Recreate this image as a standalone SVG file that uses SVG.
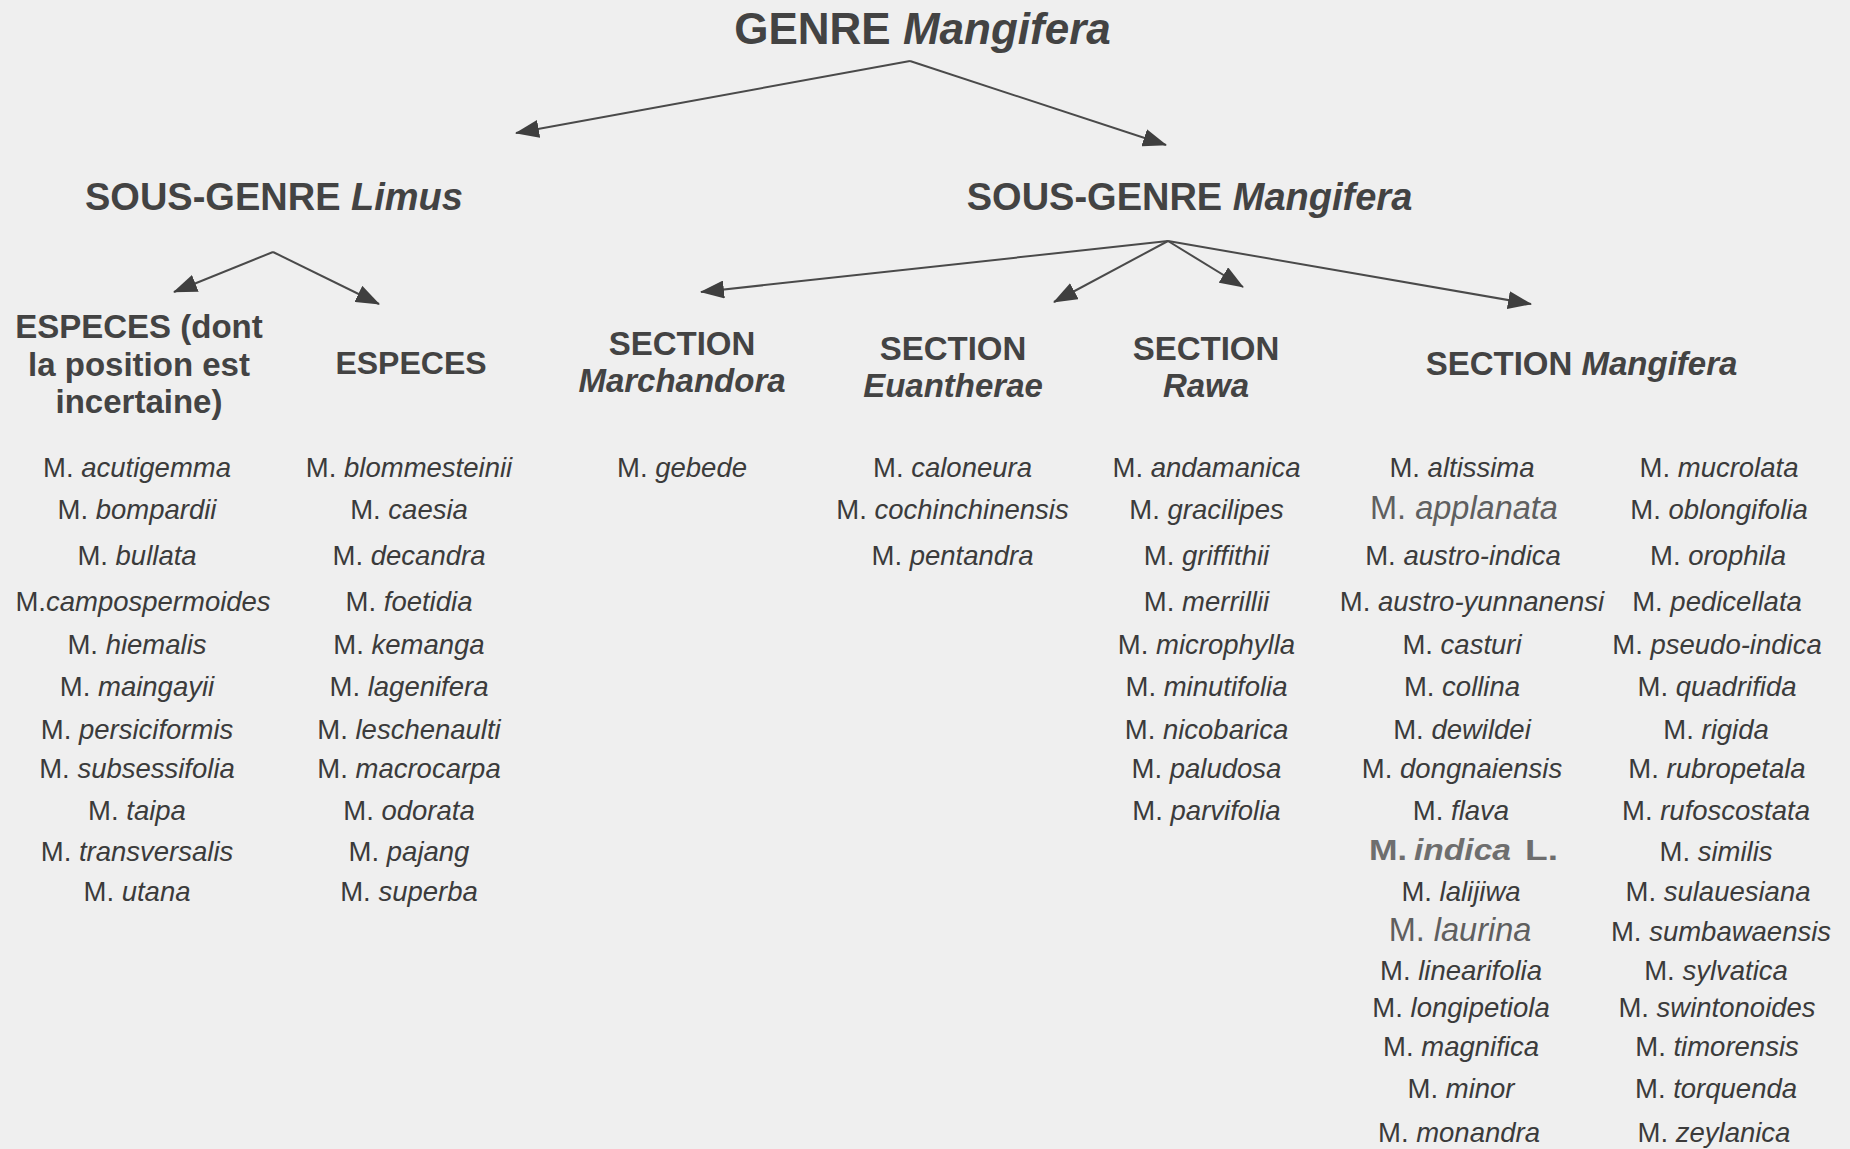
<svg xmlns="http://www.w3.org/2000/svg" width="1850" height="1149" viewBox="0 0 1850 1149">
  <defs>
    <marker id="tip" viewBox="0 0 24 18" refX="23" refY="9" markerWidth="24" markerHeight="18" markerUnits="userSpaceOnUse" orient="auto">
      <path d="M0,0 L24,9 L0,18 z" fill="#3f3f3f"/>
    </marker>
  </defs>
  <style>
    text { font-family: "Liberation Sans", Arial, sans-serif; fill: #3b3b3b; text-anchor: middle; }
    .title { font-size: 44px; font-weight: bold; fill: #434343; }
    .sub { font-size: 38px; font-weight: bold; fill: #434343; }
    .hdr { font-size: 33px; font-weight: bold; fill: #434343; }
    .sp { font-size: 27.5px; }
    .big { font-size: 32.5px; fill: #5f5f5f; }
    .key { font-size: 29px; font-weight: bold; fill: #6e6e6e; text-anchor: start; }
    .it { font-style: italic; }
    .links line { stroke: #4a4a4a; stroke-width: 2; marker-end: url(#tip); }
  </style>
  <rect width="1850" height="1149" fill="#efefef"/>

  <!-- connectors -->
  <g id="connectors" class="links">
    <line x1="910" y1="61" x2="516" y2="133"/>
    <line x1="910" y1="61" x2="1166" y2="145"/>
    <line x1="273" y1="252" x2="174" y2="292"/>
    <line x1="273" y1="252" x2="379" y2="304"/>
    <line x1="1168" y1="241" x2="701" y2="292"/>
    <line x1="1168" y1="241" x2="1054" y2="302"/>
    <line x1="1168" y1="241" x2="1243" y2="287"/>
    <line x1="1168" y1="241" x2="1531" y2="304"/>
  </g>

  <!-- genus -->
  <g id="genre">
    <text class="title" x="922.5" y="44">GENRE <tspan class="it">Mangifera</tspan></text>
  </g>

  <!-- subgenera -->
  <g id="sousgenre-limus">
    <text class="sub" x="274" y="210">SOUS-GENRE <tspan class="it">Limus</tspan></text>
  </g>
  <g id="sousgenre-mangifera">
    <text class="sub" x="1189.5" y="210">SOUS-GENRE <tspan class="it">Mangifera</tspan></text>
  </g>

  <!-- Limus: uncertain position -->
  <g id="especes-incertaines">
    <text class="hdr" x="139" y="338">ESPECES (dont</text>
    <text class="hdr" x="139" y="376">la position est</text>
    <text class="hdr" x="139" y="413">incertaine)</text>
    <g class="sp">
      <text x="137" y="477">M. <tspan class="it">acutigemma</tspan></text>
      <text x="137" y="519">M. <tspan class="it">bompardii</tspan></text>
      <text x="137" y="565">M. <tspan class="it">bullata</tspan></text>
      <text x="143" y="611">M.<tspan class="it">campospermoides</tspan></text>
      <text x="137" y="653.5">M. <tspan class="it">hiemalis</tspan></text>
      <text x="137" y="696">M. <tspan class="it">maingayii</tspan></text>
      <text x="137" y="738.5">M. <tspan class="it">persiciformis</tspan></text>
      <text x="137" y="777.5">M. <tspan class="it">subsessifolia</tspan></text>
      <text x="137" y="820">M. <tspan class="it">taipa</tspan></text>
      <text x="137" y="861">M. <tspan class="it">transversalis</tspan></text>
      <text x="137" y="901">M. <tspan class="it">utana</tspan></text>
    </g>
  </g>

  <!-- Limus: species -->
  <g id="especes">
    <text class="hdr" x="411" y="374" style="font-size:32px">ESPECES</text>
    <g class="sp">
      <text x="409" y="477">M. <tspan class="it">blommesteinii</tspan></text>
      <text x="409" y="519">M. <tspan class="it">caesia</tspan></text>
      <text x="409" y="565">M. <tspan class="it">decandra</tspan></text>
      <text x="409" y="611">M. <tspan class="it">foetidia</tspan></text>
      <text x="409" y="653.5">M. <tspan class="it">kemanga</tspan></text>
      <text x="409" y="696">M. <tspan class="it">lagenifera</tspan></text>
      <text x="409" y="738.5">M. <tspan class="it">leschenaulti</tspan></text>
      <text x="409" y="777.5">M. <tspan class="it">macrocarpa</tspan></text>
      <text x="409" y="820">M. <tspan class="it">odorata</tspan></text>
      <text x="409" y="861">M. <tspan class="it">pajang</tspan></text>
      <text x="409" y="901">M. <tspan class="it">superba</tspan></text>
    </g>
  </g>

  <!-- Section Marchandora -->
  <g id="section-marchandora">
    <text class="hdr" x="682" y="355">SECTION</text>
    <text class="hdr it" x="682" y="392">Marchandora</text>
    <text class="sp" x="682" y="477">M. <tspan class="it">gebede</tspan></text>
  </g>

  <!-- Section Euantherae -->
  <g id="section-euantherae">
    <text class="hdr" x="953" y="360">SECTION</text>
    <text class="hdr it" x="953" y="397">Euantherae</text>
    <g class="sp">
      <text x="952.5" y="477">M. <tspan class="it">caloneura</tspan></text>
      <text x="952.5" y="519">M. <tspan class="it">cochinchinensis</tspan></text>
      <text x="952.5" y="565">M. <tspan class="it">pentandra</tspan></text>
    </g>
  </g>

  <!-- Section Rawa -->
  <g id="section-rawa">
    <text class="hdr" x="1206" y="360">SECTION</text>
    <text class="hdr it" x="1206" y="397">Rawa</text>
    <g class="sp">
      <text x="1206.5" y="477">M. <tspan class="it">andamanica</tspan></text>
      <text x="1206.5" y="519">M. <tspan class="it">gracilipes</tspan></text>
      <text x="1206.5" y="565">M. <tspan class="it">griffithii</tspan></text>
      <text x="1206.5" y="611">M. <tspan class="it">merrillii</tspan></text>
      <text x="1206.5" y="653.5">M. <tspan class="it">microphylla</tspan></text>
      <text x="1206.5" y="696">M. <tspan class="it">minutifolia</tspan></text>
      <text x="1206.5" y="738.5">M. <tspan class="it">nicobarica</tspan></text>
      <text x="1206.5" y="777.5">M. <tspan class="it">paludosa</tspan></text>
      <text x="1206.5" y="820">M. <tspan class="it">parvifolia</tspan></text>
    </g>
  </g>

  <!-- Section Mangifera -->
  <g id="section-mangifera">
    <text class="hdr" x="1581.5" y="375">SECTION <tspan class="it">Mangifera</tspan></text>
    <g class="sp">
      <text x="1462" y="477">M. <tspan class="it">altissima</tspan></text>
      <text class="big" x="1464" y="519">M. <tspan class="it">applanata</tspan></text>
      <text x="1463" y="565">M. <tspan class="it">austro-indica</tspan></text>
      <text x="1472" y="611">M. <tspan class="it">austro-yunnanensi</tspan></text>
      <text x="1462" y="653.5">M. <tspan class="it">casturi</tspan></text>
      <text x="1462" y="696">M. <tspan class="it">collina</tspan></text>
      <text x="1462" y="738.5">M. <tspan class="it">dewildei</tspan></text>
      <text x="1462" y="777.5">M. <tspan class="it">dongnaiensis</tspan></text>
      <text x="1461" y="820">M. <tspan class="it">flava</tspan></text>
      <text class="key" x="1369" y="860"><tspan textLength="38" lengthAdjust="spacingAndGlyphs">M.</tspan><tspan class="it" x="1414" textLength="97" lengthAdjust="spacingAndGlyphs">indica</tspan><tspan x="1525" textLength="33" lengthAdjust="spacingAndGlyphs">L.</tspan></text>
      <text x="1461" y="901">M. <tspan class="it">lalijiwa</tspan></text>
      <text class="big" x="1460" y="941">M. <tspan class="it">laurina</tspan></text>
      <text x="1461" y="980">M. <tspan class="it">linearifolia</tspan></text>
      <text x="1461" y="1017">M. <tspan class="it">longipetiola</tspan></text>
      <text x="1461" y="1056">M. <tspan class="it">magnifica</tspan></text>
      <text x="1461" y="1098">M. <tspan class="it">minor</tspan></text>
      <text x="1459" y="1142">M. <tspan class="it">monandra</tspan></text>

      <text x="1719" y="477">M. <tspan class="it">mucrolata</tspan></text>
      <text x="1719" y="519">M. <tspan class="it">oblongifolia</tspan></text>
      <text x="1718" y="565">M. <tspan class="it">orophila</tspan></text>
      <text x="1717" y="611">M. <tspan class="it">pedicellata</tspan></text>
      <text x="1717" y="653.5">M. <tspan class="it">pseudo-indica</tspan></text>
      <text x="1717" y="696">M. <tspan class="it">quadrifida</tspan></text>
      <text x="1716" y="738.5">M. <tspan class="it">rigida</tspan></text>
      <text x="1717" y="777.5">M. <tspan class="it">rubropetala</tspan></text>
      <text x="1716" y="820">M. <tspan class="it">rufoscostata</tspan></text>
      <text x="1716" y="861">M. <tspan class="it">similis</tspan></text>
      <text x="1718" y="901">M. <tspan class="it">sulauesiana</tspan></text>
      <text x="1721" y="941">M. <tspan class="it">sumbawaensis</tspan></text>
      <text x="1716" y="980">M. <tspan class="it">sylvatica</tspan></text>
      <text x="1717" y="1017">M. <tspan class="it">swintonoides</tspan></text>
      <text x="1717" y="1056">M. <tspan class="it">timorensis</tspan></text>
      <text x="1716" y="1098">M. <tspan class="it">torquenda</tspan></text>
      <text x="1714" y="1142">M. <tspan class="it">zeylanica</tspan></text>
    </g>
  </g>
</svg>
